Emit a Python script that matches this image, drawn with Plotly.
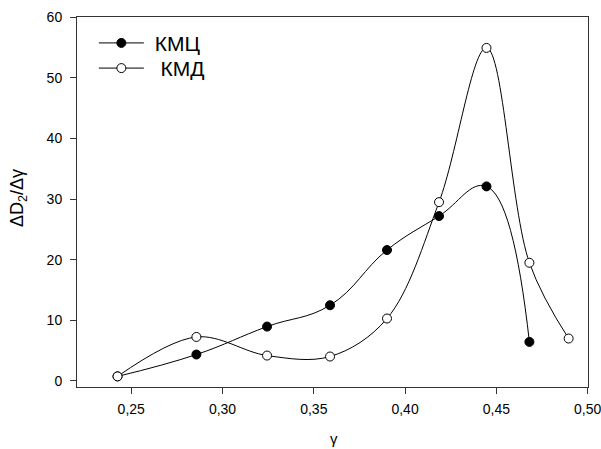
import plotly.graph_objects as go

# Data
x_kmc = [0.2425, 0.2857, 0.3244, 0.3589, 0.3901, 0.4186, 0.4446, 0.4681]
y_kmc = [0.75, 4.36, 8.97, 12.49, 21.6, 27.2, 32.1, 6.44]

x_kmd = [0.2425, 0.2857, 0.3244, 0.3589, 0.3901, 0.4186, 0.4446, 0.4681, 0.4896]
y_kmd = [0.75, 7.26, 4.19, 4.03, 10.3, 29.5, 54.95, 19.5, 7.0]

x_ticks = [0.25, 0.30, 0.35, 0.40, 0.45, 0.50]
y_ticks = [0, 10, 20, 30, 40, 50, 60]

x_title = "γ"
y_title = "ΔD<sub>2</sub>/Δγ"

FONT = "Liberation Sans, Arial, sans-serif"

fig = go.Figure()
fig.add_trace(go.Scatter(
    x=x_kmc, y=y_kmc, mode="lines+markers", name=" КМЦ", legend="legend",
    line=dict(color="black", width=1, shape="spline", smoothing=1.2),
    marker=dict(symbol="circle", size=9, color="black", line=dict(color="black", width=1)),
))
fig.add_trace(go.Scatter(
    x=x_kmd, y=y_kmd, mode="lines+markers", name="  КМД", legend="legend2",
    line=dict(color="black", width=1, shape="spline", smoothing=1.0),
    marker=dict(symbol="circle", size=9, color="white", line=dict(color="black", width=1)),
))

axis_common = dict(
    showgrid=False, zeroline=False, showline=True, linecolor="#333333", linewidth=1,
    mirror=True, ticks="outside", ticklen=6, tickcolor="#333333", tickwidth=1,
    tickfont=dict(family=FONT, size=14, color="black"), automargin=False,
    ticklabeloverflow="allow",
)

leg_common = dict(xanchor="left", yanchor="middle", bgcolor="rgba(0,0,0,0)",
                  font=dict(family=FONT, size=21), itemwidth=45)

fig.update_layout(
    width=601, height=449,
    margin=dict(l=77, r=13, t=17, b=62),
    paper_bgcolor="white", plot_bgcolor="white",
    separators=",.",
    font=dict(family=FONT, color="black"),
    xaxis=dict(range=[0.2203, 0.5002], tickvals=x_ticks, tickformat=".2f",
               ticklabelstandoff=3, **axis_common),
    yaxis=dict(range=[-1, 60.05], tickvals=y_ticks, ticklabelstandoff=5,
               **axis_common),
    legend=dict(x=0.033, y=0.929, **leg_common),
    legend2=dict(x=0.033, y=0.861, **leg_common),
    showlegend=True,
    annotations=[
        dict(text=x_title, xref="paper", yref="paper", x=0.5035, y=-0.139,
             xanchor="center", yanchor="middle", showarrow=False,
             font=dict(family=FONT, size=15, color="black")),
        dict(text=y_title, xref="paper", yref="paper", x=-0.114, y=0.51,
             xanchor="center", yanchor="middle", showarrow=False, textangle=-90,
             font=dict(family=FONT, size=18, color="black")),
    ],
)

fig.write_html(
    "out.html",
    config={"displayModeBar": False},
    post_script="document.body.style.margin='0';document.body.style.overflow='hidden';",
)
